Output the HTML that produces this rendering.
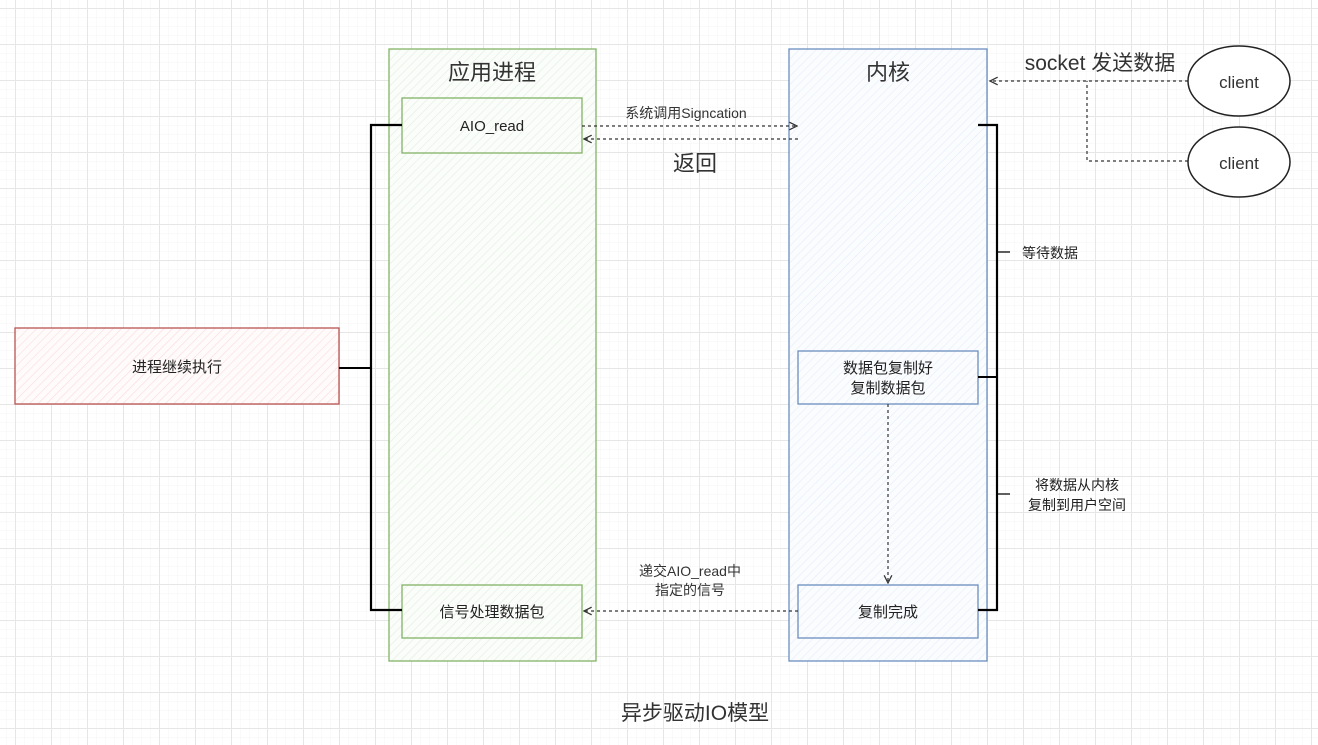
<!DOCTYPE html>
<html><head><meta charset="utf-8"><style>
html,body{margin:0;padding:0;background:#fff;}
svg{display:block;font-family:"Liberation Sans","Noto Sans CJK SC",sans-serif;}
</style></head><body>
<svg width="1318" height="745" viewBox="0 0 1318 745" xmlns="http://www.w3.org/2000/svg">
<defs>
<pattern id="minor" x="15" y="8" width="9" height="9" patternUnits="userSpaceOnUse"><path d="M0 0H9M0 0V9" stroke="#f5f5f5" stroke-width="1" fill="none"/></pattern>
<pattern id="major" x="15" y="8" width="36" height="36" patternUnits="userSpaceOnUse"><path d="M0 0.5H36M0.5 0V36" stroke="#e6e6e6" stroke-width="1" fill="none"/></pattern>
<pattern id="hg" width="6" height="6" patternUnits="userSpaceOnUse" patternTransform="rotate(45)"><rect width="6" height="6" fill="#fbfdfa"/><path d="M0 0V6" stroke="#e1eedf" stroke-width="1.2"/></pattern>
<pattern id="hb" width="6" height="6" patternUnits="userSpaceOnUse" patternTransform="rotate(45)"><rect width="6" height="6" fill="#fbfcfe"/><path d="M0 0V6" stroke="#e3edfc" stroke-width="1.2"/></pattern>
<pattern id="hr" width="6" height="6" patternUnits="userSpaceOnUse" patternTransform="rotate(45)"><rect width="6" height="6" fill="#fffbfb"/><path d="M0 0V6" stroke="#f9dcda" stroke-width="1.2"/></pattern>
<marker id="oa" viewBox="0 0 10 10" refX="9" refY="5" markerWidth="8" markerHeight="8" orient="auto"><path d="M1 1L9 5L1 9" fill="none" stroke="#333" stroke-width="1.3"/></marker>
</defs>
<rect width="1318" height="745" fill="url(#minor)"/>
<rect width="1318" height="745" fill="url(#major)"/>

<rect x="389" y="49" width="207" height="612" fill="url(#hg)" stroke="#82b366" stroke-width="1.3"/>
<text x="492" y="80" font-size="22" text-anchor="middle" fill="#333">应用进程</text>
<rect x="402" y="98" width="180" height="55" fill="url(#hg)" stroke="#82b366" stroke-width="1.3"/>
<text x="492" y="131" font-size="15" text-anchor="middle" fill="#222">AIO_read</text>
<rect x="402" y="585" width="180" height="53" fill="url(#hg)" stroke="#82b366" stroke-width="1.3"/>
<text x="492" y="617" font-size="15" text-anchor="middle" fill="#222">信号处理数据包</text>

<rect x="789" y="49" width="198" height="612" fill="url(#hb)" stroke="#6c8ebf" stroke-width="1.3"/>
<text x="888" y="80" font-size="22" text-anchor="middle" fill="#333">内核</text>
<rect x="798" y="351" width="180" height="53" fill="url(#hb)" stroke="#6c8ebf" stroke-width="1.3"/>
<text x="888" y="373" font-size="15" text-anchor="middle" fill="#222">数据包复制好</text>
<text x="888" y="393" font-size="15" text-anchor="middle" fill="#222">复制数据包</text>
<rect x="798" y="585" width="180" height="53" fill="url(#hb)" stroke="#6c8ebf" stroke-width="1.3"/>
<text x="888" y="617" font-size="15" text-anchor="middle" fill="#222">复制完成</text>

<rect x="15" y="328" width="324" height="76" fill="url(#hr)" stroke="#b85450" stroke-width="1.3"/>
<text x="177" y="372" font-size="15" text-anchor="middle" fill="#222">进程继续执行</text>

<path d="M402 125H371V610H402" fill="none" stroke="#000" stroke-width="2.2"/>
<path d="M339 368H371" fill="none" stroke="#000" stroke-width="2"/>
<path d="M978 125H997V610H978" fill="none" stroke="#000" stroke-width="2.2"/>
<path d="M978 377H997" fill="none" stroke="#000" stroke-width="2"/>
<path d="M997 252H1010M997 494H1010" fill="none" stroke="#000" stroke-width="1.3"/>
<text x="1022" y="258" font-size="14" fill="#222">等待数据</text>
<text x="1077" y="490" font-size="14" text-anchor="middle" fill="#222">将数据从内核</text>
<text x="1077" y="510" font-size="14" text-anchor="middle" fill="#222">复制到用户空间</text>

<g stroke="#333" stroke-width="1.2" stroke-dasharray="3 3" fill="none">
<path d="M582 126H797" marker-end="url(#oa)"/>
<path d="M798 139H584" marker-end="url(#oa)"/>
<path d="M888 404V583" marker-end="url(#oa)"/>
<path d="M798 611H584" marker-end="url(#oa)"/>
<path d="M1188 81H990" marker-end="url(#oa)"/>
<path d="M1188 161H1087V81"/>
</g>
<text x="686" y="118" font-size="14" text-anchor="middle" fill="#333">系统调用Signcation</text>
<text x="695" y="171" font-size="22" text-anchor="middle" fill="#333">返回</text>
<text x="690" y="576" font-size="14" text-anchor="middle" fill="#333">递交AIO_read中</text>
<text x="690" y="595" font-size="14" text-anchor="middle" fill="#333">指定的信号</text>
<text x="1100" y="70" font-size="21" text-anchor="middle" fill="#333">socket 发送数据</text>

<ellipse cx="1239" cy="81" rx="51" ry="35" fill="#fff" stroke="#222" stroke-width="1.5"/>
<text x="1239" y="88" font-size="17" text-anchor="middle" fill="#333">client</text>
<ellipse cx="1239" cy="162" rx="51" ry="35" fill="#fff" stroke="#222" stroke-width="1.5"/>
<text x="1239" y="169" font-size="17" text-anchor="middle" fill="#333">client</text>

<text x="695" y="720" font-size="21" text-anchor="middle" fill="#333">异步驱动IO模型</text>
</svg>
</body></html>
